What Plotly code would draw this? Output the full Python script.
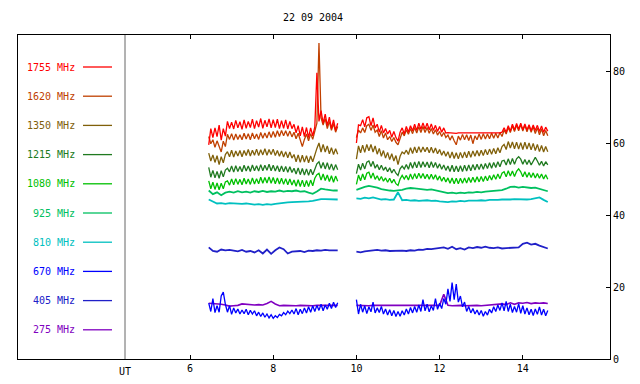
import numpy as np
import plotly.graph_objects as go

TITLE = "22 09 2004"
FREQ_LABELS = ["1755 MHz", "1620 MHz", "1350 MHz", "1215 MHz", "1080 MHz",
               "925 MHz", "810 MHz", "670 MHz", "405 MHz", "275 MHz"]
COLORS = ["#ff0000", "#c04000", "#80600a", "#207a20", "#00c000",
          "#00c060", "#00c0c0", "#0000ff", "#2020c8", "#8000c0"]
X_TICKS = [6, 8, 10, 12, 14]
Y_TICKS = [0, 20, 40, 60, 80]

# time grids (UT hours): segment A starts 6.45, segment B starts 10.0
SEG_A_START = 6.45
SEG_B_START = 10.0
FINE = 0.05
COARSE = 0.1

# ---- 1755 MHz (fine) ----
F1755_A = [59.5, 64.0, 61.5, 64.2, 61.8, 65.0, 60.8, 64.0, 61.9,
           66.0, 64.0, 65.8, 63.9, 66.3, 64.2, 65.9, 63.8, 66.4, 64.1, 66.0, 64.3, 66.6, 64.0, 66.2, 64.4,
           66.8, 64.1, 66.3, 64.5, 66.7, 64.2, 66.5, 64.3, 66.6, 64.0, 66.2, 64.1, 66.4, 63.9, 66.0, 64.0,
           65.2, 62.8, 64.8, 62.0, 64.5, 61.8, 64.3, 61.5, 64.2, 62.0,
           64.5, 79.5, 66.0, 69.0, 65.5,
           68.0, 64.8, 67.2, 64.0, 66.4, 63.5, 65.5]
F1755_B = [60.0, 65.0, 64.8, 66.5, 64.5, 67.0,
           67.3, 64.8, 67.0, 64.2,
           65.2, 63.0, 64.9, 62.8, 64.0, 62.5,
           63.5, 61.6, 63.2, 61.5, 60.5, 63.0, 64.2, 62.5,
           64.6, 63.0, 64.8, 63.4, 65.2, 63.5, 65.5, 63.8, 65.6, 63.9, 65.5, 63.7,
           65.3, 63.5, 64.9, 63.2, 64.6, 63.0, 64.2, 62.8,
           62.9, 62.8, 62.8, 62.8, 62.7, 62.8, 62.8, 62.8, 62.8, 62.7, 62.8, 62.8, 62.8, 62.8,
           62.8, 62.7, 62.8, 62.8, 62.8, 62.8, 62.8, 62.7, 62.8, 62.8, 62.8, 62.8, 63.0,
           64.2, 63.0, 64.8, 63.3, 65.2, 63.6, 65.4, 63.8, 65.5, 63.7, 65.3, 63.6, 65.1, 63.4,
           65.0, 63.5, 64.9, 63.2, 64.7, 63.0, 64.4, 63.3]

# ---- 1620 MHz (fine) ----
F1620_A = [61.8, 59.8, 60.9, 58.8, 60.6, 58.7, 57.5, 60.5, 59.0,
           62.4, 61.0, 62.6, 60.8, 62.5, 61.0, 62.3, 60.9, 62.7, 61.1, 62.6, 60.9, 62.8, 61.2, 62.5, 61.0,
           62.9, 61.3, 62.8, 61.4, 63.1, 61.5, 63.2, 61.6, 63.4, 61.8, 63.5, 62.0, 63.4, 61.9, 63.3, 61.7,
           63.0, 61.2, 62.7, 60.5, 59.0, 61.0, 62.5, 60.6, 62.6, 61.0,
           63.5, 65.5, 87.8, 67.0, 65.0,
           66.8, 64.0, 66.0, 63.5, 65.4, 63.0, 64.6]
F1620_B = [61.5, 63.6, 62.8, 64.2, 62.9, 64.8,
           65.2, 63.5, 65.0, 63.0,
           63.6, 61.8, 63.4, 61.4, 62.8, 60.9,
           61.8, 60.4, 61.5, 60.2, 59.5, 61.6, 63.0, 62.0,
           63.7, 62.4, 64.0, 62.6, 64.3, 62.8, 64.5, 62.9, 64.6, 62.9, 64.3, 62.7,
           64.0, 62.5, 63.7, 62.2, 63.2, 61.8, 62.9, 61.5,
           62.2, 60.8, 62.0, 60.6, 59.5, 61.9, 60.8, 62.4, 60.9, 62.3, 60.7, 62.2, 59.8, 62.0,
           60.9, 62.5, 61.0, 62.6, 61.1, 62.5, 61.2, 62.8, 61.3, 62.7, 61.4, 62.9, 61.8,
           63.6, 62.5, 64.3, 62.9, 64.8, 63.2, 65.0, 63.4, 65.1, 63.3, 64.9, 63.1, 64.7, 63.0,
           64.5, 62.6, 64.2, 62.3, 63.9, 62.0, 63.5, 62.0]

# ---- 1350 MHz (fine) ----
F1350_A = [57.2, 55.0, 56.7, 54.6, 56.5, 54.0, 56.2, 54.5, 56.8,
           57.6, 56.2, 58.0, 56.1, 57.8, 56.4, 57.9, 56.2, 57.9, 56.5, 58.2, 56.4, 58.0, 56.6, 58.3, 56.5,
           58.1, 56.7, 58.4, 56.6, 58.2, 56.8, 58.3, 56.5, 57.9, 56.3, 57.8, 56.1, 57.6, 55.9, 57.5, 55.8,
           56.8, 54.8, 56.7, 54.6, 56.6, 54.7, 56.5, 54.5, 56.4, 54.8,
           57.0, 58.5, 60.0, 57.5, 59.6,
           57.5, 59.2, 57.0, 58.7, 56.8, 58.4, 56.9]
F1350_B = [55.5, 59.2, 57.3, 59.4, 57.4, 59.6,
           57.8, 59.6, 57.5, 59.2,
           56.9, 58.5, 56.3, 57.9, 55.8, 57.4,
           55.4, 57.0, 55.0, 56.5, 54.0, 56.3, 57.5, 57.0,
           58.0, 56.8, 58.7, 57.1, 58.9, 57.3, 59.0, 57.4, 58.9, 57.6, 58.8, 57.3,
           58.8, 57.2, 58.6, 57.0, 58.2, 56.6, 57.8, 56.3,
           57.6, 55.8, 57.5, 55.7, 57.3, 55.6, 57.4, 55.8, 57.5, 55.9, 57.7, 56.0, 57.8, 56.3,
           57.9, 56.4, 58.0, 56.5, 58.2, 56.7, 58.3, 56.9, 58.5, 57.0, 58.7, 57.3, 59.0,
           59.6, 58.2, 60.4, 58.6, 60.3, 58.4, 60.2, 58.3, 60.1, 58.2, 60.2, 58.3, 60.0, 58.1,
           59.9, 57.9, 59.6, 57.6, 59.3, 57.5, 59.0, 57.6]

# ---- 1215 MHz (fine) ----
F1215_A = [53.2, 50.5, 52.4, 50.3, 52.1, 50.2, 52.3, 50.6, 52.5,
           53.0, 52.0, 53.6, 51.9, 53.7, 52.1, 53.5, 52.0, 53.8, 52.2, 53.6, 52.1, 53.9, 52.3, 53.7, 52.2,
           54.0, 52.3, 53.8, 52.4, 54.1, 52.3, 53.8, 52.2, 53.7, 52.0, 53.6, 52.0, 53.5, 51.9, 53.4, 51.8,
           53.0, 51.4, 53.1, 51.2, 52.9, 51.1, 52.8, 51.0, 52.7, 51.2,
           53.0, 54.2, 54.8, 53.0, 54.6,
           52.8, 54.5, 52.6, 54.2, 52.4, 54.0, 52.6]
F1215_B = [51.5, 54.1, 52.5, 54.4, 52.8, 54.7,
           55.0, 53.5, 54.9, 53.0,
           54.0, 52.6, 53.8, 52.4, 53.3, 52.0,
           53.1, 51.7, 52.7, 51.6, 51.0, 52.8, 53.6, 52.8,
           54.0, 52.7, 54.6, 53.0, 54.7, 53.1, 54.9, 53.2, 54.8, 53.3, 54.7, 53.1,
           54.8, 53.2, 54.6, 53.0, 54.2, 52.7, 53.9, 52.4,
           53.6, 52.1, 53.8, 52.0, 53.6, 52.0, 53.7, 52.1, 53.8, 52.2, 53.9, 52.3, 54.0, 52.5,
           54.1, 52.6, 54.2, 52.7, 54.3, 52.9, 54.5, 53.0, 54.6, 53.2, 54.8, 53.4, 55.0,
           55.2, 53.9, 55.6, 54.0, 55.7, 54.1, 55.6, 56.2, 55.5, 54.1, 55.4, 54.0, 55.3, 53.9,
           55.2, 56.0, 55.0, 53.8, 54.9, 53.6, 54.8, 53.9]

# ---- 1080 MHz (fine) ----
F1080_A = [49.5, 47.3, 49.1, 47.1, 48.9, 47.0, 48.8, 47.3, 49.2,
           49.5, 48.3, 50.0, 48.4, 50.1, 48.5, 49.9, 48.4, 50.2, 48.6, 50.0, 48.5, 50.3, 48.6, 50.1, 48.7,
           50.5, 48.8, 50.4, 48.9, 50.6, 48.8, 50.4, 48.7, 50.3, 48.6, 50.2, 48.5, 50.1, 48.4, 50.0, 48.3,
           49.7, 48.0, 49.8, 47.9, 49.7, 47.8, 49.6, 47.9, 49.7, 48.1,
           50.2, 51.2, 51.6, 49.7, 51.4,
           49.6, 51.1, 49.3, 50.9, 49.1, 50.8, 49.4]
F1080_B = [48.5, 51.1, 49.5, 51.4, 49.8, 51.6,
           51.9, 50.2, 51.7, 49.9,
           50.9, 49.6, 50.7, 49.4, 50.3, 49.1,
           50.2, 48.9, 49.9, 48.7, 48.2, 50.0, 51.0, 50.0,
           51.0, 49.7, 51.4, 49.9, 51.5, 50.1, 51.6, 50.2, 51.5, 50.1, 51.3, 49.9,
           51.3, 49.9, 51.2, 49.7, 50.8, 49.4, 50.5, 49.2,
           50.3, 48.8, 50.3, 48.7, 50.2, 48.7, 50.2, 48.8, 50.3, 48.9, 50.4, 49.0, 50.5, 49.1,
           50.6, 49.2, 50.7, 49.3, 50.8, 49.5, 51.0, 49.7, 51.2, 49.9, 51.4, 50.1, 51.6,
           52.0, 50.6, 52.3, 50.8, 52.2, 50.7, 52.1, 52.8, 52.0, 50.6, 52.0, 50.5, 51.8, 50.4,
           51.7, 50.3, 51.5, 50.2, 51.4, 50.0, 51.2, 49.9]

# ---- 925 MHz (coarse) ----
F925_A = [46.8, 45.8, 46.3, 45.5, 46.2, 46.5, 46.2, 46.6, 46.3, 46.5, 46.2, 46.6, 46.4, 46.7, 46.4, 46.6,
          46.5, 46.8, 46.5, 46.7, 46.6, 46.8, 46.5, 46.6, 46.2, 45.9, 46.5, 47.3, 47.1, 46.9, 46.8, 46.8]
F925_B = [47.0, 47.5, 47.8, 48.1, 47.9, 47.6, 47.2, 46.9, 46.8, 46.7, 46.8, 47.0, 47.3, 47.5, 47.4, 47.2,
          47.1, 47.0, 47.1, 46.9, 46.7, 46.4, 46.1, 46.2, 46.0, 46.2, 46.1, 46.3, 46.2, 46.4, 46.3, 46.5,
          46.6, 46.7, 46.8, 46.9, 47.3, 47.8, 47.9, 47.6, 47.8, 47.6, 47.5, 47.6, 47.2, 46.9, 46.6]

# ---- 810 MHz (coarse) ----
F810_A = [44.3, 43.8, 43.2, 43.3, 43.1, 43.3, 43.2, 43.3, 43.1, 43.2, 43.0, 42.9, 43.0, 42.8, 43.0, 42.9,
          43.1, 43.3, 43.4, 43.5, 43.6, 43.6, 43.7, 43.6, 43.8, 43.9, 44.2, 44.4, 44.4, 44.3, 44.4, 44.3]
F810_B = [44.6, 44.5, 44.8, 44.6, 44.9, 44.5, 44.3, 44.4, 44.2, 44.3, 46.3, 44.1, 44.2, 44.0, 44.1, 43.9,
          44.0, 44.1, 43.9, 44.0, 43.8, 43.7, 43.6, 43.8, 43.7, 43.9, 43.8, 44.0, 43.9, 44.0, 44.1, 44.0,
          44.2, 44.1, 44.2, 44.3, 44.2, 44.3, 44.4, 44.3, 44.4, 44.3, 44.4, 44.6, 44.9, 44.2, 43.6]

# ---- 670 MHz (fine) ----
F670_A = [15.5, 13.2, 16.8, 12.9, 14.8, 13.0, 17.5, 18.6, 15.2,
          13.0, 14.8, 12.4, 14.2, 12.8, 13.9, 12.5, 13.6, 12.6, 13.8, 12.3, 13.5,
          12.5, 13.4, 12.0, 13.0, 11.8, 12.8, 11.6, 12.5, 11.4, 12.3,
          11.3, 12.0, 11.5, 12.4, 12.0, 12.9, 12.3, 13.3, 12.6, 13.6,
          12.5, 14.0, 12.3, 13.8, 12.6, 14.2, 12.8, 14.5, 13.0, 14.8,
          13.2, 14.9, 13.5, 15.2, 13.4, 15.0, 13.8, 15.5, 14.0, 15.8, 14.3, 15.6]
F670_B = [16.5, 12.5, 15.2, 13.0, 14.8, 12.6, 14.5, 13.1, 15.8, 12.8,
          14.2, 12.9, 14.6, 12.5, 13.9, 12.2, 13.7, 12.0, 13.5, 11.8,
          13.2, 11.9, 13.4, 12.2, 13.9, 12.5, 14.3, 12.8, 14.6, 13.0,
          15.0, 13.2, 16.5, 13.4, 15.2, 13.1, 14.8, 13.5, 16.8, 13.8,
          15.5, 14.0, 16.8, 15.2, 19.5, 16.0, 21.2, 16.5, 20.8, 15.8,
          17.5, 14.5, 15.8, 13.2, 14.6, 12.8, 14.0, 12.5, 13.6, 12.2,
          13.5, 11.9, 13.2, 12.2, 13.8, 12.8, 14.5, 13.2, 15.0, 13.5,
          15.6, 13.4, 16.0, 13.2, 15.2, 12.9, 14.6, 13.0, 15.4, 12.7,
          14.8, 12.5, 14.2, 12.3, 13.8, 12.1, 13.9, 12.4, 14.5, 12.2, 13.8, 12.0, 13.5]

# ---- 405 MHz (coarse) ----
F405_A = [31.0, 30.0, 29.8, 30.4, 30.2, 30.3, 30.1, 29.9, 30.3, 29.8, 30.0, 29.6, 30.2, 29.3, 30.4, 29.2,
          30.2, 31.0, 30.5, 29.3, 29.8, 29.8, 30.0, 29.7, 30.1, 30.0, 30.2, 30.1, 30.3, 30.2, 30.3, 30.2]
F405_B = [29.8, 29.6, 29.9, 30.0, 30.2, 30.3, 30.1, 30.2, 30.0, 30.1, 30.0, 30.1, 30.0, 30.2, 30.1, 30.4,
          30.3, 30.6, 30.5, 30.7, 30.8, 31.0, 30.6, 31.2, 30.5, 30.8, 30.4, 31.0, 30.8, 31.1, 30.9, 31.2,
          30.9, 30.8, 31.0, 30.7, 30.8, 30.9, 30.8, 31.0, 32.0, 32.3, 31.8, 32.0, 31.5, 31.0, 30.7]

# ---- 275 MHz (coarse) ----
F275_A = [15.5, 15.4, 15.5, 15.2, 15.0, 14.7, 14.8, 14.9, 15.3, 15.2, 15.0, 15.0, 15.1, 15.0, 15.4, 16.0,
          15.3, 14.8, 14.9, 14.8, 14.9, 14.8, 14.9, 14.8, 14.9, 14.8, 14.9, 14.9, 14.9, 14.8, 14.9, 14.9]
F275_B = [14.9, 14.8, 14.9, 14.8, 14.9, 14.9, 14.8, 14.9, 14.9, 14.8, 14.9, 14.9, 14.8, 14.9, 14.9, 14.8,
          14.9, 14.9, 14.8, 14.9, 14.9, 18.0, 14.9, 14.8, 14.9, 14.9, 14.8, 14.9, 14.8, 14.9, 14.8, 14.9,
          14.9, 15.0, 15.1, 15.3, 15.1, 15.6, 15.2, 15.6, 15.5, 15.7, 15.4, 15.6, 15.5, 15.6, 15.4]

SERIES_A = [F1755_A, F1620_A, F1350_A, F1215_A, F1080_A, F925_A, F810_A, F670_A, F405_A, F275_A]
SERIES_B = [F1755_B, F1620_B, F1350_B, F1215_B, F1080_B, F925_B, F810_B, F670_B, F405_B, F275_B]
STEPS = [FINE, FINE, FINE, FINE, FINE, COARSE, COARSE, FINE, COARSE, COARSE]
WIDTHS = [1.3, 1.3, 1.3, 1.3, 1.3, 1.8, 1.8, 1.3, 1.8, 1.6]

FONT = "DejaVu Sans Mono"
W, H = 640, 384
L, R, T, B = 18, 30, 35, 25
X_RANGE = [1.865, 16.096]
UT_X = 4.4375

fig = go.Figure()

# draw from lowest frequency to highest so 1755 ends on top
for k in reversed(range(len(FREQ_LABELS))):
    a, b, st = SERIES_A[k], SERIES_B[k], STEPS[k]
    ta = SEG_A_START + st * np.arange(len(a))
    tb = SEG_B_START + st * np.arange(len(b))
    xs = list(ta) + [None] + list(tb)
    ys = list(a) + [None] + list(b)
    fig.add_trace(go.Scatter(x=xs, y=ys, mode="lines", name=FREQ_LABELS[k],
                             line=dict(color=COLORS[k], width=WIDTHS[k]), showlegend=False,
                             hoverinfo="skip"))

shapes = []
annotations = []
# UT separator line
shapes.append(dict(type="line", xref="x", yref="paper", x0=UT_X, x1=UT_X, y0=0, y1=1,
                   line=dict(color="#666666", width=1)))
annotations.append(dict(text="UT", xref="x", yref="paper", x=UT_X, y=0, yshift=-12,
                        showarrow=False, font=dict(family=FONT, size=10, color="black"),
                        xanchor="center", yanchor="middle"))

# custom legend: label then a short line
plot_w = W - L - R
plot_h = H - T - B
for k, lab in enumerate(FREQ_LABELS):
    ypix = 67 + k * 29.2
    yp = 1 - (ypix - T) / plot_h
    annotations.append(dict(text=lab, xref="paper", yref="paper",
                            x=(77 - L) / plot_w, y=yp, xanchor="right", yanchor="middle",
                            showarrow=False, font=dict(family=FONT, size=10, color=COLORS[k])))
    shapes.append(dict(type="line", xref="paper", yref="paper",
                       x0=(83 - L) / plot_w, x1=(112 - L) / plot_w, y0=yp, y1=yp,
                       line=dict(color=COLORS[k], width=1.3)))

fig.update_layout(
    width=W, height=H,
    margin=dict(l=L, r=R, t=T, b=B, autoexpand=False),
    paper_bgcolor="white", plot_bgcolor="white",
    title=dict(text=TITLE, x=313 / W, y=1 - 17 / H, xanchor="center", yanchor="middle",
               font=dict(family=FONT, size=10, color="black")),
    font=dict(family=FONT, size=10, color="black"),
    shapes=shapes, annotations=annotations,
    xaxis=dict(range=X_RANGE, tickvals=X_TICKS, ticktext=[str(v) for v in X_TICKS],
               ticks="inside", ticklen=4, tickcolor="black", showline=True, linecolor="black",
               linewidth=1, mirror="ticks", showgrid=False, zeroline=False,
               tickfont=dict(family=FONT, size=10, color="black")),
    yaxis=dict(range=[0, 90], tickvals=Y_TICKS, side="right", ticks="inside", ticklen=4,
               tickcolor="black", showline=True, linecolor="black", linewidth=1, mirror=True,
               showgrid=False, zeroline=False,
               tickfont=dict(family=FONT, size=10, color="black")),
)

fig.write_html("out.html", config={"displayModeBar": False},
               post_script="document.body.style.margin='0';document.body.style.padding='0';")
